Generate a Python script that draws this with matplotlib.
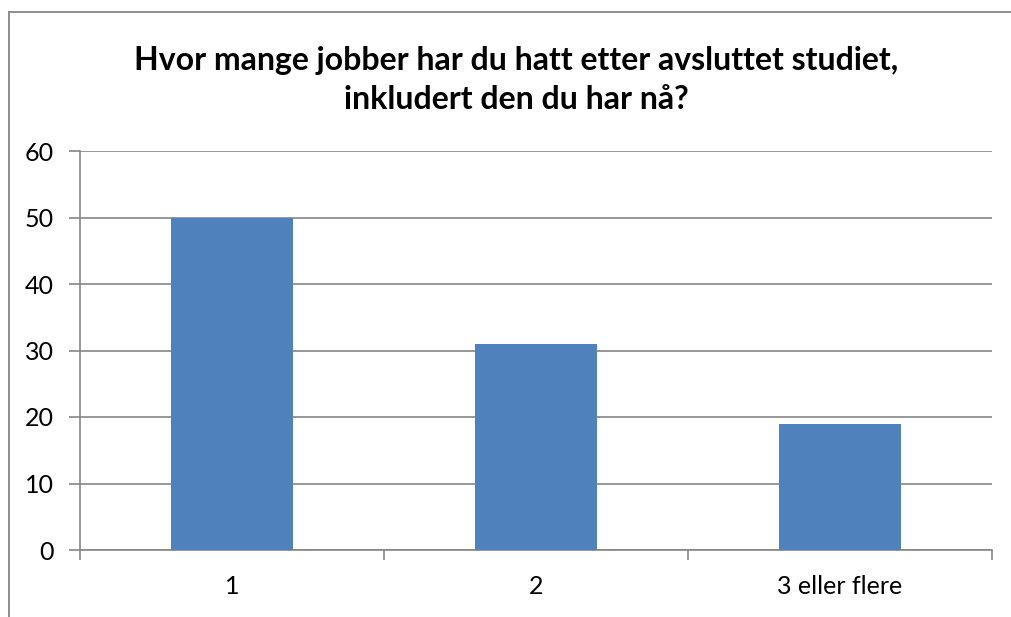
import matplotlib.pyplot as plt
from matplotlib.lines import Line2D
import numpy as np

categories = ["1", "2", "3 eller flere"]
values = [50, 31, 19]
yticks = [0, 10, 20, 30, 40, 50, 60]
title = "Hvor mange jobber har du hatt etter avsluttet studiet,\ninkludert den du har nå?"

plt.rcParams['font.family'] = ['Lato', 'DejaVu Sans']

W, H = 1011, 617
fig = plt.figure(figsize=(W / 100, H / 100), dpi=100)

# chart border (only top and left visible in the crop)
fig.add_artist(Line2D([8.5 / W, 8.5 / W], [0, 1 - 12 / H], color="#868686", lw=1.3))
fig.add_artist(Line2D([8.5 / W, 1], [1 - 12 / H, 1 - 12 / H], color="#868686", lw=1.3))

ax = fig.add_axes([80 / W, 1 - 550 / H, (992 - 80) / W, (550 - 151) / H])
x = np.arange(len(categories))
ax.bar(x, values, width=0.4, color="#4F81BD", zorder=3)

ax.set_xlim(-0.5, len(categories) - 0.5)
ax.set_ylim(0, 60)
ax.set_yticks(yticks)
ax.set_yticklabels([str(v) for v in yticks], fontsize=18)
ax.yaxis.grid(True, color="#868686", lw=1.2, zorder=0)

ax.set_xticks(np.arange(-0.5, len(categories), 1.0))
ax.set_xticklabels([])
ax.set_xticks(x, minor=True)
ax.set_xticklabels(categories, minor=True, fontsize=18)
ax.tick_params(axis="x", which="minor", length=0, pad=18)
ax.tick_params(axis="x", which="major", length=7, color="#868686", width=1.2)
ax.tick_params(axis="y", length=8, color="#868686", width=1.2, pad=11)

for s in ["top", "right"]:
    ax.spines[s].set_visible(False)
for s in ["left", "bottom"]:
    ax.spines[s].set_color("#868686")
    ax.spines[s].set_linewidth(1.2)

fig.text(516 / W, 1 - 80 / H, title, ha="center", va="center", fontsize=23,
         fontweight="bold", linespacing=1.45)

fig.savefig("out.png", dpi=100)
